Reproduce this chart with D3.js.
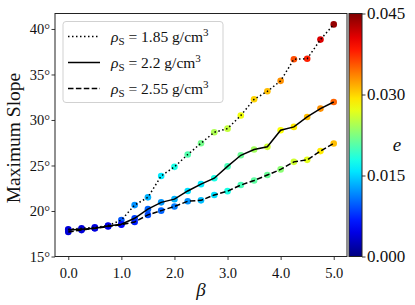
<html><head>
<meta charset="utf-8">
<title>Maximum slope</title>
<script src="https://cdnjs.cloudflare.com/ajax/libs/d3/7.8.5/d3.min.js"></script>
<style>
  body { margin: 0; background: #fff; }
  svg text { font-family: "Liberation Serif", "DejaVu Serif", serif; fill: #111; }
</style>
</head>
<body>
<div id="chart"></div>
<script>

// beta values (x)
var beta = [0, 0.25, 0.5, 0.75, 1.0, 1.25, 1.5, 1.75, 2.0, 2.25, 2.5,
            2.75, 3.0, 3.25, 3.5, 3.75, 4.0, 4.25, 4.5, 4.75, 5.0];

// maximum slope (degrees) for each density
var slope185 = [18.0, 18.1, 18.2, 18.4, 19.0, 20.65, 21.5, 23.85, 24.85, 26.2, 27.45,
                28.65, 29.05, 30.5, 32.27, 33.15, 34.3, 36.68, 36.73, 38.83, 40.5];
var slope220 = [17.9, 18.0, 18.1, 18.35, 18.55, 19.2, 20.2, 20.95, 21.3, 22.2, 22.95,
                23.6, 24.9, 26.12, 26.76, 27.05, 28.88, 29.24, 30.33, 31.25, 31.98];
var slope255 = [17.7, 17.9, 18.1, 18.3, 18.5, 18.8, 19.57, 20.04, 20.5, 21.07, 21.17,
                21.76, 22.18, 22.85, 23.35, 23.95, 24.57, 25.4, 25.62, 26.58, 27.42];

// colour value e for each point
var e185 = [0.004, 0.004, 0.0045, 0.005, 0.0095, 0.012, 0.0135, 0.016, 0.018, 0.0205, 0.022,
            0.0245, 0.0255, 0.0275, 0.030, 0.031, 0.033, 0.036, 0.038, 0.041, 0.044];
var e220 = [0.004, 0.004, 0.0042, 0.0048, 0.007, 0.0085, 0.010, 0.0123, 0.0135, 0.0155, 0.016,
            0.018, 0.020, 0.0215, 0.024, 0.026, 0.028, 0.029, 0.031, 0.033, 0.035];
var e255 = [0.0038, 0.004, 0.0042, 0.0046, 0.006, 0.007, 0.009, 0.010, 0.011, 0.012, 0.014,
            0.0155, 0.018, 0.020, 0.021, 0.0215, 0.023, 0.026, 0.027, 0.029, 0.031];

var seriesNames = ["1.85", "2.2", "2.55"];
var dashes = ["1.5,2.5", null, "5.5,2.4"];

var xTicks = [0, 1, 2, 3, 4, 5];
var yTicks = [15, 20, 25, 30, 35, 40];
var cTicks = [0, 0.015, 0.03, 0.045];

var series = [
  { name: seriesNames[0], y: slope185, e: e185, dash: dashes[0] },
  { name: seriesNames[1], y: slope220, e: e220, dash: dashes[1] },
  { name: seriesNames[2], y: slope255, e: e255, dash: dashes[2] }
];

var W = 415, H = 305;
var margin = {top: 13.5, right: 68, bottom: 48.5, left: 55};
var width = W - margin.left - margin.right;
var height = H - margin.top - margin.bottom;

var svg = d3.select("#chart").append("svg")
    .attr("width", W).attr("height", H);

var g = svg.append("g")
    .attr("transform", "translate(" + margin.left + "," + margin.top + ")");

var x = d3.scaleLinear().domain([-0.25, 5.25]).range([0, width]);
var y = d3.scaleLinear().domain([15, 41.7]).range([height, 0]);

function jet(t) {
  function c(v) { return Math.max(0, Math.min(1, v)); }
  var r = c(1.5 - Math.abs(4 * t - 3));
  var gg = c(1.5 - Math.abs(4 * t - 2));
  var b = c(1.5 - Math.abs(4 * t - 1));
  return d3.rgb(r * 255, gg * 255, b * 255).formatHex();
}
var color = d3.scaleSequential(jet).domain([0, 0.045]);

// axes
var xAxis = d3.axisBottom(x).tickValues(xTicks).tickFormat(d3.format(".1f")).tickSizeOuter(0).tickSize(3.5);
var yAxis = d3.axisLeft(y).tickValues(yTicks).tickFormat(function(d) { return d + "°"; }).tickSizeOuter(0).tickSize(3.5);

var gx = g.append("g").attr("transform", "translate(0," + height + ")").call(xAxis);
var gy = g.append("g").call(yAxis);
[gx, gy].forEach(function(a) {
  a.select(".domain").remove();
  a.selectAll(".tick line").attr("stroke", "#222").attr("stroke-width", 0.9);
  a.selectAll(".tick text").style("font-size", "14.5px").attr("fill", "#111");
});
gx.selectAll(".tick text").attr("dy", "1.05em");
gy.selectAll(".tick text").attr("x", -5);

// markers
series.forEach(function(s) {
  g.append("g").selectAll("circle")
    .data(beta.map(function(b, i) { return {b: b, v: s.y[i], e: s.e[i]}; }))
    .enter().append("circle")
    .attr("cx", function(d) { return x(d.b); })
    .attr("cy", function(d) { return y(d.v); })
    .attr("r", 3.3)
    .attr("fill", function(d) { return color(d.e); });
});

// lines on top
series.forEach(function(s) {
  g.append("path")
    .datum(beta.map(function(b, i) { return [b, s.y[i]]; }))
    .attr("fill", "none")
    .attr("stroke", "#000")
    .attr("stroke-width", 1.5)
    .attr("stroke-dasharray", s.dash)
    .attr("d", d3.line().x(function(d) { return x(d[0]); }).y(function(d) { return y(d[1]); }));
});

// frame
g.append("rect").attr("width", width).attr("height", height)
  .attr("fill", "none").attr("stroke", "#222").attr("stroke-width", 1);

// legend
var leg = g.append("g").attr("transform", "translate(8,8)");
leg.append("rect").attr("width", 160).attr("height", 81).attr("rx", 3)
  .attr("fill", "#fff").attr("fill-opacity", 0.8)
  .attr("stroke", "#ccc").attr("stroke-width", 0.9);
series.forEach(function(s, i) {
  var ly = 15 + i * 26;
  leg.append("line").attr("x1", 5).attr("x2", 37).attr("y1", ly).attr("y2", ly)
    .attr("stroke", "#000").attr("stroke-width", 1.5).attr("stroke-dasharray", s.dash);
  var t = leg.append("text").attr("x", 48).attr("y", ly + 5).style("font-size", "15.5px");
  t.append("tspan").style("font-style", "italic").text("ρ");
  t.append("tspan").attr("dy", 3).style("font-size", "11px").text("S");
  t.append("tspan").attr("dy", -3).text(" = " + s.name + " g/cm");
  t.append("tspan").attr("dy", -6).style("font-size", "11px").text("3");
});

// axis labels
svg.append("text").attr("transform", "translate(20," + (margin.top + height / 2 + 3) + ") rotate(-90)")
  .attr("text-anchor", "middle").style("font-size", "19.5px").text("Maximum Slope");
svg.append("text").attr("x", margin.left + x(2.5)).attr("y", 296)
  .attr("text-anchor", "middle").style("font-size", "19px").style("font-style", "italic").text("β");

// colorbar
var cbX = 349, cbW = 13;
var defs = svg.append("defs");
var grad = defs.append("linearGradient").attr("id", "jet")
  .attr("x1", 0).attr("y1", 1).attr("x2", 0).attr("y2", 0);
d3.range(0, 1.0001, 0.05).forEach(function(t) {
  grad.append("stop").attr("offset", t).attr("stop-color", jet(t));
});
svg.append("rect").attr("x", cbX).attr("y", margin.top).attr("width", cbW).attr("height", height)
  .attr("fill", "url(#jet)").attr("stroke", "#222").attr("stroke-width", 1);

var cScale = d3.scaleLinear().domain([0, 0.045]).range([margin.top + height, margin.top]);
var gc = svg.append("g").attr("transform", "translate(" + (cbX + cbW) + ",0)")
  .call(d3.axisRight(cScale).tickValues(cTicks).tickFormat(d3.format(".3f")).tickSize(3.5).tickSizeOuter(0));
gc.select(".domain").remove();
gc.selectAll(".tick line").attr("stroke", "#222").attr("stroke-width", 0.9);
gc.selectAll(".tick text").style("font-size", "17px").attr("x", 5).attr("fill", "#111");

svg.append("text").attr("x", 397).attr("y", 151).attr("text-anchor", "middle")
  .style("font-size", "19px").style("font-style", "italic").text("e");

</script>
</body></html>
